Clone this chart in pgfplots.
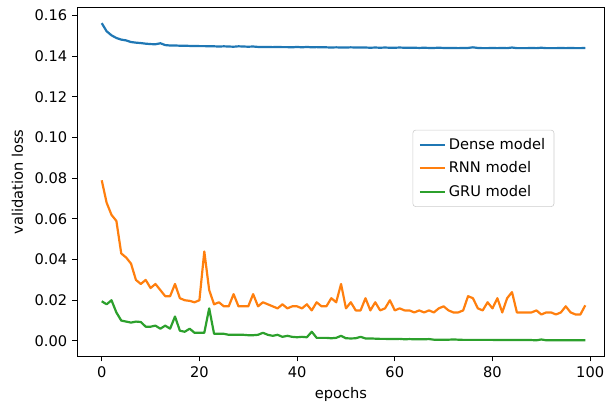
\documentclass[border=0pt]{standalone}
\usepackage{pgfplots}
\pgfplotsset{compat=1.18}
\usepackage{fontspec}
\setmainfont{DejaVu Sans}
\definecolor{tabblue}{HTML}{1F77B4}
\definecolor{taborange}{HTML}{FF7F0E}
\definecolor{tabgreen}{HTML}{2CA02C}
\begin{document}
\begin{tikzpicture}
\begin{axis}[
  scale only axis,
  width=360pt, height=238pt,
  xmin=-4.95, xmax=102.9,
  ymin=-0.0075, ymax=0.1638,
  xtick={0,20,40,60,80,100},
  ytick={0,0.02,0.04,0.06,0.08,0.10,0.12,0.14,0.16},
  scaled y ticks=false,
  yticklabel style={/pgf/number format/.cd, fixed, fixed zerofill, precision=2, assume math mode=true},
  xticklabel style={/pgf/number format/assume math mode=true},
  tick label style={font=\fontsize{10}{12}\selectfont},
  label style={font=\fontsize{10}{12}\selectfont},
  tick align=outside,
  major tick length=3.5pt,
  xtick pos=bottom, ytick pos=left,
  xlabel={epochs}, ylabel={validation loss},
  ylabel style={yshift=1pt},
  axis line style={line width=0.6pt},
  every tick/.style={black, line width=0.6pt},
  legend style={at={(0.905,0.65)}, anchor=north east, draw=black!20, rounded corners=2pt, fill=white, font=\fontsize{10}{12}\selectfont, row sep=3pt, inner xsep=4pt, inner ysep=3.5pt},
  legend cell align=left,
  every axis plot/.append style={line width=1.5pt, line join=round},
]
\addplot[tabblue, mark=none] coordinates {
(0,0.1563)(1,0.1523)(2,0.1503)(3,0.1490)(4,0.1482)(5,0.1478)(6,0.1470)(7,0.1467)(8,0.1465)(9,0.1462)
(10,0.1460)(11,0.1459)(12,0.1464)(13,0.1455)(14,0.1453)(15,0.1453)(16,0.1452)(17,0.1452)(18,0.1451)(19,0.1451)
(20,0.1450)(21,0.1450)(22,0.1449)(23,0.1449)(24,0.1448)(25,0.1449)(26,0.1448)(27,0.1447)(28,0.1449)(29,0.1448)
(30,0.1447)(31,0.1448)(32,0.1446)(33,0.1446)(34,0.1446)(35,0.1445)(36,0.1446)(37,0.1445)(38,0.1445)(39,0.1444)
(40,0.1446)(41,0.1444)(42,0.1446)(43,0.1444)(44,0.1445)(45,0.1444)(46,0.1444)(47,0.1443)(48,0.1444)(49,0.1443)
(50,0.1443)(51,0.1444)(52,0.1443)(53,0.1443)(54,0.1443)(55,0.1442)(56,0.1443)(57,0.1442)(58,0.1443)(59,0.1442)
(60,0.1442)(61,0.1443)(62,0.1442)(63,0.1442)(64,0.1442)(65,0.1441)(66,0.1442)(67,0.1441)(68,0.1441)(69,0.1442)
(70,0.1441)(71,0.1441)(72,0.1441)(73,0.1440)(74,0.1441)(75,0.1441)(76,0.1444)(77,0.1441)(78,0.1440)(79,0.1440)
(80,0.1441)(81,0.1440)(82,0.1441)(83,0.1440)(84,0.1443)(85,0.1440)(86,0.1440)(87,0.1440)(88,0.1441)(89,0.1440)
(90,0.1442)(91,0.1440)(92,0.1440)(93,0.1440)(94,0.1441)(95,0.1440)(96,0.1441)(97,0.1440)(98,0.1440)(99,0.1441)
};
\addlegendentry{Dense model}
\addplot[taborange, mark=none] coordinates {
(0,0.079)(1,0.068)(2,0.062)(3,0.059)(4,0.043)(5,0.041)(6,0.038)(7,0.030)(8,0.028)(9,0.030)
(10,0.026)(11,0.028)(12,0.025)(13,0.022)(14,0.022)(15,0.028)(16,0.021)(17,0.020)(18,0.0197)(19,0.019)
(20,0.020)(21,0.044)(22,0.025)(23,0.018)(24,0.019)(25,0.017)(26,0.017)(27,0.023)(28,0.017)(29,0.017)
(30,0.017)(31,0.023)(32,0.017)(33,0.019)(34,0.018)(35,0.017)(36,0.016)(37,0.018)(38,0.016)(39,0.017)
(40,0.017)(41,0.016)(42,0.018)(43,0.015)(44,0.019)(45,0.017)(46,0.017)(47,0.021)(48,0.019)(49,0.028)
(50,0.016)(51,0.019)(52,0.015)(53,0.015)(54,0.021)(55,0.015)(56,0.019)(57,0.015)(58,0.016)(59,0.020)
(60,0.015)(61,0.016)(62,0.015)(63,0.015)(64,0.014)(65,0.015)(66,0.014)(67,0.015)(68,0.014)(69,0.016)
(70,0.017)(71,0.015)(72,0.014)(73,0.014)(74,0.015)(75,0.022)(76,0.021)(77,0.016)(78,0.015)(79,0.019)
(80,0.016)(81,0.021)(82,0.014)(83,0.021)(84,0.024)(85,0.014)(86,0.014)(87,0.014)(88,0.014)(89,0.015)
(90,0.013)(91,0.014)(92,0.014)(93,0.013)(94,0.014)(95,0.017)(96,0.014)(97,0.013)(98,0.013)(99,0.0175)
};
\addlegendentry{RNN model}
\addplot[tabgreen, mark=none] coordinates {
(0,0.0195)(1,0.018)(2,0.020)(3,0.014)(4,0.010)(5,0.0095)(6,0.009)(7,0.0095)(8,0.0093)(9,0.007)
(10,0.007)(11,0.0075)(12,0.006)(13,0.0075)(14,0.006)(15,0.012)(16,0.005)(17,0.0045)(18,0.006)(19,0.004)
(20,0.004)(21,0.004)(22,0.016)(23,0.0035)(24,0.0035)(25,0.0035)(26,0.003)(27,0.003)(28,0.003)(29,0.003)
(30,0.0028)(31,0.0028)(32,0.003)(33,0.004)(34,0.003)(35,0.0025)(36,0.003)(37,0.002)(38,0.0025)(39,0.002)
(40,0.0018)(41,0.002)(42,0.0018)(43,0.0045)(44,0.0015)(45,0.0015)(46,0.0015)(47,0.0013)(48,0.0015)(49,0.0025)
(50,0.0013)(51,0.0012)(52,0.0013)(53,0.002)(54,0.0012)(55,0.0012)(56,0.0011)(57,0.0010)(58,0.0010)(59,0.0009)
(60,0.0009)(61,0.0010)(62,0.0008)(63,0.0009)(64,0.0008)(65,0.0008)(66,0.0008)(67,0.0009)(68,0.0006)(69,0.0006)
(70,0.0006)(71,0.0006)(72,0.0007)(73,0.0006)(74,0.0005)(75,0.0005)(76,0.0005)(77,0.0005)(78,0.0005)(79,0.0005)
(80,0.0005)(81,0.0004)(82,0.0004)(83,0.0004)(84,0.0004)(85,0.0004)(86,0.0004)(87,0.0004)(88,0.0004)(89,0.0003)
(90,0.0007)(91,0.0003)(92,0.0003)(93,0.0003)(94,0.0003)(95,0.0003)(96,0.0003)(97,0.0003)(98,0.0003)(99,0.0003)
};
\addlegendentry{GRU model}
\end{axis}
\path ([yshift=5.4pt]current axis.north west);
\path ([xshift=2.5pt]current axis.south east);
\path ([xshift=-53pt]current axis.west);
\end{tikzpicture}
\end{document}
